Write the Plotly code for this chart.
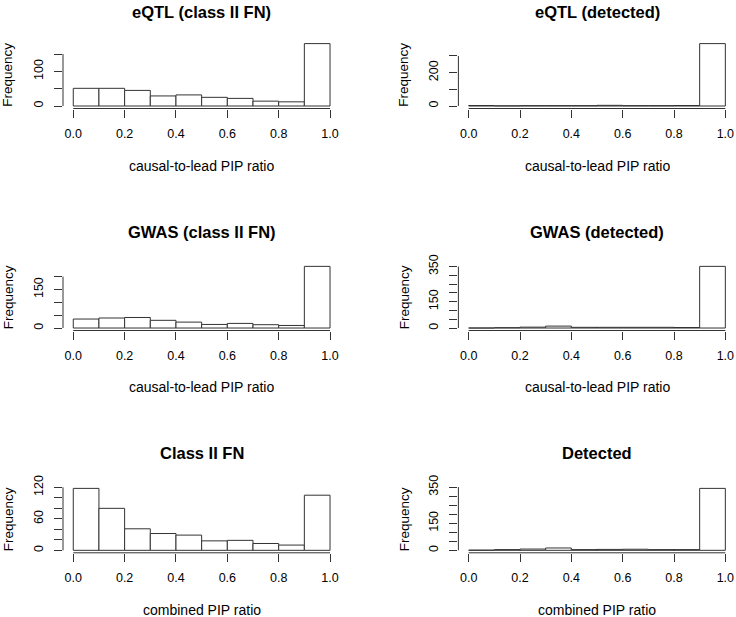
import plotly.graph_objects as go

# histogram breaks / x ticks (shared)
breaks = [0.0, 0.1, 0.2, 0.3, 0.4, 0.5, 0.6, 0.7, 0.8, 0.9, 1.0]
x_ticks = [0.0, 0.2, 0.4, 0.6, 0.8, 1.0]
x_ticktext = ["0.0", "0.2", "0.4", "0.6", "0.8", "1.0"]

# counts per bin
eqtl_fn = [51, 51, 45, 29, 32, 25, 22, 14, 12, 180]
eqtl_det = [3, 1, 2, 2, 2, 4, 2, 2, 3, 374]
gwas_fn = [35, 39, 41, 30, 23, 14, 18, 13, 10, 240]
gwas_det = [0, 2, 5, 11, 4, 4, 4, 4, 3, 351]
comb_fn = [118, 80, 41, 32, 29, 18, 19, 13, 10, 105]
comb_det = [1, 4, 7, 13, 4, 5, 6, 4, 4, 343]

# y ticks (R drops some labels)
eqtl_fn_yt = [0, 50, 100, 150]
eqtl_fn_yl = ["0", "", "100", ""]
eqtl_det_yt = [0, 100, 200, 300]
eqtl_det_yl = ["0", "", "200", ""]
gwas_fn_yt = [0, 50, 100, 150, 200]
gwas_fn_yl = ["0", "", "", "150", ""]
gwas_det_yt = [0, 50, 100, 150, 200, 250, 300, 350]
gwas_det_yl = ["0", "", "", "150", "", "", "", "350"]
comb_fn_yt = [0, 20, 40, 60, 80, 100, 120]
comb_fn_yl = ["0", "", "", "60", "", "", "120"]
comb_det_yt = [0, 50, 100, 150, 200, 250, 300, 350]
comb_det_yl = ["0", "", "", "150", "", "", "", "350"]

titles = ["eQTL (class II FN)", "eQTL (detected)",
          "GWAS (class II FN)", "GWAS (detected)",
          "Class II FN", "Detected"]
xlabels = ["causal-to-lead PIP ratio", "causal-to-lead PIP ratio",
           "causal-to-lead PIP ratio", "causal-to-lead PIP ratio",
           "combined PIP ratio", "combined PIP ratio"]
counts = [eqtl_fn, eqtl_det, gwas_fn, gwas_det, comb_fn, comb_det]
yticks = [eqtl_fn_yt, eqtl_det_yt, gwas_fn_yt, gwas_det_yt, comb_fn_yt, comb_det_yt]
ylabels = [eqtl_fn_yl, eqtl_det_yl, gwas_fn_yl, gwas_det_yl, comb_fn_yl, comb_det_yl]

W, H = 736, 617
FONT = "Liberation Sans, Arial, Helvetica, sans-serif"
LINE = "#333333"

# plot regions in pixels
col_px = [(63.0, 340.3), (458.4, 735.6)]
row_px = [(41.1, 108.5), (263.9, 330.5), (485.9, 552.8)]
title_y = [12, 232, 453]
xlab_y = [166, 387, 610]
ylab_x = [8, 404]

centers = [(breaks[i] + breaks[i + 1]) / 2 for i in range(len(breaks) - 1)]
width = breaks[1] - breaks[0]

fig = go.Figure()
layout = dict(width=W, height=H, margin=dict(l=0, r=0, t=0, b=0, autoexpand=False),
              plot_bgcolor="white", paper_bgcolor="white", showlegend=False,
              font=dict(family=FONT, color="black"))
annotations = []
shapes = []

for i in range(6):
    n = i + 1
    r, c = divmod(i, 2)
    xs = "" if n == 1 else str(n)
    fig.add_trace(go.Bar(
        x=centers, y=counts[i], width=width,
        marker=dict(color="white", line=dict(color=LINE, width=1)),
        xaxis="x" + xs, yaxis="y" + xs, hoverinfo="x+y",
    ))
    ymax = max(counts[i])
    x0, x1 = col_px[c]
    t, b = row_px[r]
    layout["xaxis" + xs] = dict(
        domain=[x0 / W, x1 / W], anchor="y" + xs, automargin=False,
        range=[breaks[0] - 0.04 * (breaks[-1] - breaks[0]), breaks[-1] + 0.04 * (breaks[-1] - breaks[0])],
        tickvals=x_ticks, ticktext=x_ticktext, ticks="outside", ticklen=8,
        tickcolor=LINE, tickfont=dict(size=12.5), ticklabelstandoff=5,
        showgrid=False, zeroline=False, showline=False, fixedrange=True,
    )
    layout["yaxis" + xs] = dict(
        domain=[1 - b / H, 1 - t / H], anchor="x" + xs, automargin=False,
        range=[-0.04 * ymax, 1.04 * ymax],
        tickvals=yticks[i], ticktext=ylabels[i], ticks="outside", ticklen=8,
        tickcolor=LINE, tickfont=dict(size=12.5), tickangle=-90, ticklabelstandoff=6,
        showgrid=False, zeroline=False, showline=False, fixedrange=True,
    )
    # R-style axis lines spanning first..last tick
    shapes.append(dict(type="line", xref="x" + xs, yref="y" + xs + " domain",
                       x0=x_ticks[0], x1=x_ticks[-1], y0=0, y1=0,
                       line=dict(color=LINE, width=1)))
    shapes.append(dict(type="line", xref="x" + xs + " domain", yref="y" + xs,
                       x0=0, x1=0, y0=yticks[i][0], y1=yticks[i][-1],
                       line=dict(color=LINE, width=1)))
    cx = (x0 + x1) / 2 / W
    annotations.append(dict(text="<b>" + titles[i] + "</b>", x=cx, y=1 - title_y[r] / H,
                            xref="paper", yref="paper", showarrow=False,
                            xanchor="center", yanchor="middle", font=dict(size=16.5)))
    annotations.append(dict(text=xlabels[i], x=cx, y=1 - xlab_y[r] / H,
                            xref="paper", yref="paper", showarrow=False,
                            xanchor="center", yanchor="middle", font=dict(size=14)))
    annotations.append(dict(text="Frequency", x=ylab_x[c] / W, y=1 - (t + b) / 2 / H,
                            xref="paper", yref="paper", showarrow=False, textangle=-90,
                            xanchor="center", yanchor="middle", font=dict(size=13.5)))

layout["annotations"] = annotations
layout["shapes"] = shapes
fig.update_layout(**layout)

# pin the chart to the page corner (no body margin, no scrollbars)
pin = ("document.documentElement.style.margin='0';document.documentElement.style.overflow='hidden';"
       "document.body.style.margin='0';document.body.style.overflow='hidden';"
       "var gd=document.getElementById('{plot_id}');gd.style.position='fixed';gd.style.left='0';gd.style.top='0';")
fig.write_html("out.html", config={"displayModeBar": False}, post_script=pin)
